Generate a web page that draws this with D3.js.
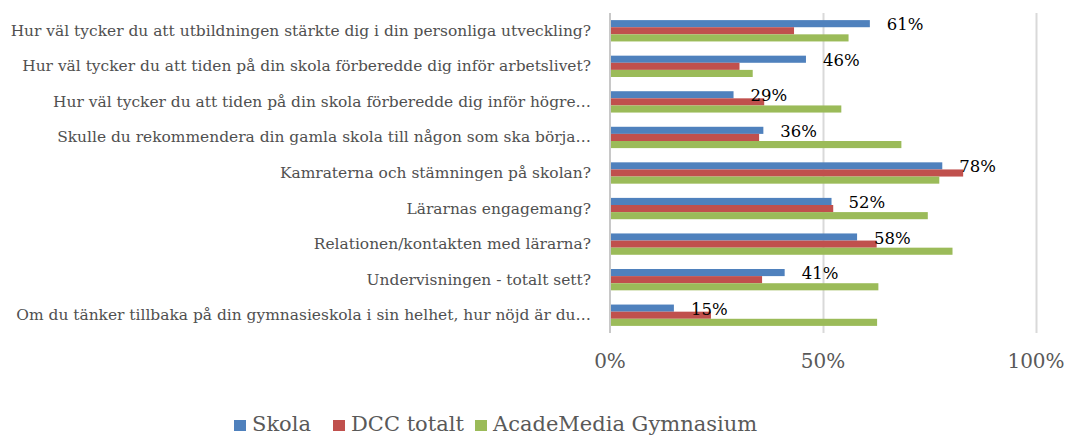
<!DOCTYPE html>
<html>
<head>
<meta charset="utf-8">
<script src="https://cdn.jsdelivr.net/npm/d3@7"></script>
<style>
  body { margin: 0; background: #fff; }
  text { font-family: "DejaVu Serif", serif; }
</style>
</head>
<body>
<svg id="svg"></svg>
<script>
// data
var categories = [
  "Hur väl tycker du att utbildningen stärkte dig i din personliga utveckling?",
  "Hur väl tycker du att tiden på din skola förberedde dig inför arbetslivet?",
  "Hur väl tycker du att tiden på din skola förberedde dig inför högre…",
  "Skulle du rekommendera din gamla skola till någon som ska börja…",
  "Kamraterna och stämningen på skolan?",
  "Lärarnas engagemang?",
  "Relationen/kontakten med lärarna?",
  "Undervisningen - totalt sett?",
  "Om du tänker tillbaka på din gymnasieskola i sin helhet, hur nöjd är du…"
];
var skola = [0.61, 0.46, 0.29, 0.36, 0.78, 0.52, 0.58, 0.41, 0.15];
var dccTotalt = [0.432, 0.304, 0.362, 0.35, 0.829, 0.524, 0.626, 0.357, 0.237];
var academedia = [0.56, 0.335, 0.543, 0.684, 0.773, 0.746, 0.804, 0.63, 0.627];
var seriesNames = ["Skola", "DCC totalt", "AcadeMedia Gymnasium"];
var xTicks = [0, 0.5, 1];

var colors = ["#4F81BD", "#C0504D", "#9BBB59"];
var width = 1070, height = 437;

var svg = d3.select("#svg").attr("width", width).attr("height", height);

var xScale = d3.scaleLinear().domain([0, 1]).range([610, 1036]);
var yScale = d3.scaleBand().domain(categories).range([13, 333])
  .paddingInner(0.4).paddingOuter(0.2);
var sScale = d3.scaleBand().domain(seriesNames).range([0, yScale.bandwidth()]);

var allSeries = [skola, dccTotalt, academedia];

// gridlines
var grid = svg.append("g")
  .attr("transform", "translate(0,333)")
  .call(d3.axisBottom(xScale).tickValues(xTicks.slice(1)).tickSize(-320).tickSizeOuter(0).tickFormat(""));
grid.select(".domain").remove();
grid.selectAll("line").attr("stroke", "#d9d9d9").attr("stroke-width", 2);

// vertical axis line
svg.append("line")
  .attr("x1", xScale(0)).attr("x2", xScale(0))
  .attr("y1", 13).attr("y2", 333)
  .attr("stroke", "#c8c8c8").attr("stroke-width", 2);

// bars
var groups = svg.selectAll(".grp")
  .data(categories)
  .join("g")
  .attr("class", "grp")
  .attr("transform", d => `translate(0,${yScale(d)})`);

allSeries.forEach((vals, si) => {
  groups.append("rect")
    .attr("x", xScale(0) + 1)
    .attr("y", sScale(seriesNames[si]))
    .attr("width", (d, i) => xScale(vals[i]) - xScale(0) - 1)
    .attr("height", sScale.bandwidth())
    .attr("fill", colors[si]);
});

// labels for Skola
groups.append("text")
  .attr("x", (d, i) => xScale(skola[i]) + 17)
  .attr("y", sScale("Skola") + sScale.bandwidth() / 2 + 2)
  .attr("dominant-baseline", "middle")
  .attr("font-size", 16.5)
  .attr("fill", "#000")
  .text((d, i) => Math.round(skola[i] * 100) + "%");

// category labels
var catLabels = svg.selectAll(".cat")
  .data(categories)
  .join("text")
  .attr("class", "cat")
  .attr("x", 591)
  .attr("y", d => yScale(d) + yScale.bandwidth() / 2 + 1)
  .attr("text-anchor", "end")
  .attr("dominant-baseline", "middle")
  .attr("font-size", 15)
  .attr("fill", "#505050")
  .text(d => d);

// fit label size so the first line spans like the picture
var w0 = catLabels.node().getComputedTextLength();
catLabels.attr("font-size", 15 * 581 / w0);

// x tick labels
svg.selectAll(".xt")
  .data(xTicks)
  .join("text")
  .attr("class", "xt")
  .attr("x", d => xScale(d))
  .attr("y", 362)
  .attr("text-anchor", "middle")
  .attr("dominant-baseline", "middle")
  .attr("font-size", 20)
  .attr("fill", "#595959")
  .text(d3.format(".0%"));

// legend
var legendX = [234, 333, 475];
var leg = svg.selectAll(".leg")
  .data(seriesNames)
  .join("g")
  .attr("class", "leg")
  .attr("transform", (d, i) => `translate(${legendX[i]},0)`);
leg.append("rect")
  .attr("x", 0).attr("y", 420)
  .attr("width", 12).attr("height", 11)
  .attr("fill", (d, i) => colors[i]);
leg.append("text")
  .attr("x", 18).attr("y", 431)
  .attr("font-size", 21)
  .attr("fill", "#595959")
  .text(d => d);
</script>
</body>
</html>
